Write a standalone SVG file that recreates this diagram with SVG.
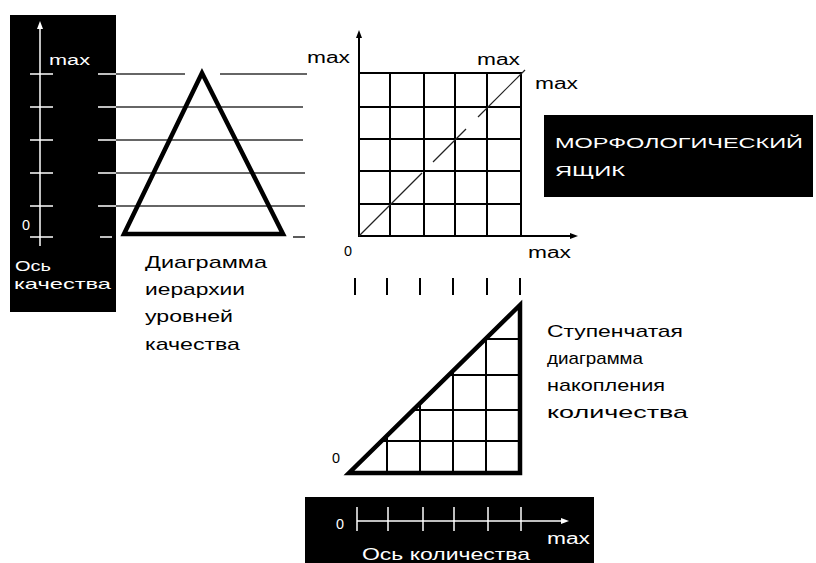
<svg xmlns="http://www.w3.org/2000/svg" width="816" height="563" viewBox="0 0 816 563">
<style>
text{font-family:"Liberation Sans",Arial,sans-serif;}
.w{fill:#fff;}
.b{fill:#000;}
.wl{stroke:#fff;stroke-width:1.5;fill:none;}
.bl{stroke:#000;stroke-width:2;fill:none;}
.gl{stroke:#333;stroke-width:1.6;fill:none;}
.thick{stroke:#000;stroke-width:4.5;fill:none;stroke-linejoin:miter;}
</style>
<defs>
<clipPath id="stepclip"><polygon points="349,473 520,473 520,305"/></clipPath>
</defs>
<rect width="816" height="563" fill="#fff"/>

<g id="quality-axis">
<rect x="10" y="15" width="106" height="297" fill="#000"/>
<line class="wl" x1="40" y1="26" x2="40" y2="246"/>
<polygon class="w" points="40,21 37,29 43,29"/>
<g class="wl">
<line x1="30" y1="74" x2="53" y2="74"/>
<line x1="30" y1="107" x2="53" y2="107"/>
<line x1="30" y1="140" x2="53" y2="140"/>
<line x1="30" y1="173" x2="53" y2="173"/>
<line x1="30" y1="206" x2="53" y2="206"/>
<line x1="30" y1="237" x2="53" y2="237"/>
</g>
<text class="w" x="49" y="65" font-size="14" textLength="41" lengthAdjust="spacingAndGlyphs">max</text>
<text class="w" x="22" y="230" font-size="15" textLength="8" lengthAdjust="spacingAndGlyphs">0</text>
<text class="w" x="15" y="271" font-size="15" textLength="36" lengthAdjust="spacingAndGlyphs">Ось</text>
<text class="w" x="14" y="289" font-size="15" textLength="97" lengthAdjust="spacingAndGlyphs">качества</text>
</g>

<g id="connectors">
<g class="wl">
<line x1="98" y1="74" x2="116" y2="74"/>
<line x1="98" y1="107" x2="116" y2="107"/>
<line x1="98" y1="140" x2="116" y2="140"/>
<line x1="98" y1="173" x2="116" y2="173"/>
<line x1="98" y1="206" x2="116" y2="206"/>
<line x1="100" y1="237" x2="112" y2="237"/>
</g>
<g class="gl">
<line x1="116" y1="74" x2="185" y2="74"/>
<line x1="220" y1="74" x2="307" y2="74"/>
<line x1="116" y1="107" x2="303" y2="107"/>
<line x1="116" y1="140" x2="303" y2="140"/>
<line x1="116" y1="173" x2="305" y2="173"/>
<line x1="116" y1="206" x2="305" y2="206"/>
<line x1="293" y1="237" x2="305" y2="237"/>
</g>
<g class="bl" stroke-width="1.4">
<line x1="355" y1="278" x2="355" y2="295"/>
<line x1="387" y1="278" x2="387" y2="295"/>
<line x1="420" y1="278" x2="420" y2="295"/>
<line x1="453" y1="278" x2="453" y2="295"/>
<line x1="487" y1="278" x2="487" y2="295"/>
<line x1="520" y1="278" x2="520" y2="295"/>
</g>
</g>

<g id="hierarchy-diagram">
<polygon class="thick" points="202,73 124,234 283,234"/>
<text class="b" x="145" y="268" font-size="17" textLength="122" lengthAdjust="spacingAndGlyphs">Диаграмма</text>
<text class="b" x="145" y="295" font-size="17" textLength="100" lengthAdjust="spacingAndGlyphs">иерархии</text>
<text class="b" x="145" y="322" font-size="17" textLength="88" lengthAdjust="spacingAndGlyphs">уровней</text>
<text class="b" x="145" y="350" font-size="17" textLength="95" lengthAdjust="spacingAndGlyphs">качества</text>
</g>

<g id="morph-grid">
<line class="bl" x1="359" y1="36" x2="359" y2="237"/>
<polygon class="b" points="359,30 356,38 362,38"/>
<line class="bl" x1="358" y1="236" x2="572" y2="236"/>
<polygon class="b" points="578,236 570,233 570,239"/>
<g class="bl">
<rect x="359" y="73" width="162" height="163"/>
<line x1="390" y1="73" x2="390" y2="236"/>
<line x1="424" y1="73" x2="424" y2="236"/>
<line x1="455" y1="73" x2="455" y2="236"/>
<line x1="487" y1="73" x2="487" y2="236"/>
<line x1="359" y1="107" x2="521" y2="107"/>
<line x1="359" y1="139" x2="521" y2="139"/>
<line x1="359" y1="171" x2="521" y2="171"/>
<line x1="359" y1="204" x2="521" y2="204"/>
</g>
<g stroke="#222" stroke-width="1.2">
<line x1="359" y1="236" x2="422" y2="173"/>
<line x1="433" y1="162" x2="466" y2="129"/>
<line x1="478" y1="117" x2="525" y2="70"/>
</g>
<text class="b" x="307" y="63" font-size="16" textLength="43" lengthAdjust="spacingAndGlyphs">max</text>
<text class="b" x="477" y="65" font-size="16" textLength="43" lengthAdjust="spacingAndGlyphs">max</text>
<text class="b" x="535" y="89" font-size="16" textLength="43" lengthAdjust="spacingAndGlyphs">max</text>
<text class="b" x="344" y="256" font-size="15" textLength="8" lengthAdjust="spacingAndGlyphs">0</text>
<text class="b" x="528" y="258" font-size="16" textLength="43" lengthAdjust="spacingAndGlyphs">max</text>
</g>

<g id="morph-box">
<rect x="544" y="115" width="269" height="82" fill="#000"/>
<text class="w" x="555" y="148" font-size="15" textLength="248" lengthAdjust="spacingAndGlyphs">МОРФОЛОГИЧЕСКИЙ</text>
<text class="w" x="555" y="176" font-size="15" textLength="70" lengthAdjust="spacingAndGlyphs">ЯЩИК</text>
</g>

<g id="step-diagram">
<g class="bl" clip-path="url(#stepclip)">
<line x1="387" y1="300" x2="387" y2="475"/>
<line x1="420" y1="300" x2="420" y2="475"/>
<line x1="453" y1="300" x2="453" y2="475"/>
<line x1="486" y1="300" x2="486" y2="475"/>
<line x1="340" y1="441" x2="525" y2="441"/>
<line x1="340" y1="410" x2="525" y2="410"/>
<line x1="340" y1="375" x2="525" y2="375"/>
<line x1="340" y1="339" x2="525" y2="339"/>
</g>
<polygon class="thick" points="349,473 520,473 520,305"/>
<text class="b" x="332" y="463" font-size="15" textLength="8" lengthAdjust="spacingAndGlyphs">0</text>
<text class="b" x="547" y="337" font-size="17" textLength="136" lengthAdjust="spacingAndGlyphs">Ступенчатая</text>
<text class="b" x="547" y="364" font-size="17" textLength="96" lengthAdjust="spacingAndGlyphs">диаграмма</text>
<text class="b" x="547" y="391" font-size="17" textLength="118" lengthAdjust="spacingAndGlyphs">накопления</text>
<text class="b" x="547" y="418" font-size="17" textLength="141" lengthAdjust="spacingAndGlyphs">количества</text>
</g>

<g id="quantity-axis">
<rect x="305" y="497" width="289" height="66" fill="#000"/>
<line class="wl" x1="357" y1="521" x2="563" y2="521"/>
<polygon class="w" points="569,521 561,518 561,524"/>
<g class="wl">
<line x1="357" y1="507" x2="357" y2="531"/>
<line x1="388" y1="507" x2="388" y2="531"/>
<line x1="423" y1="507" x2="423" y2="531"/>
<line x1="454" y1="507" x2="454" y2="531"/>
<line x1="488" y1="507" x2="488" y2="531"/>
<line x1="521" y1="507" x2="521" y2="531"/>
</g>
<text class="w" x="336" y="529" font-size="14" textLength="8" lengthAdjust="spacingAndGlyphs">0</text>
<text class="w" x="547" y="544" font-size="16" textLength="43" lengthAdjust="spacingAndGlyphs">max</text>
<text class="w" x="362" y="560" font-size="17" textLength="168" lengthAdjust="spacingAndGlyphs">Ось количества</text>
</g>
</svg>
